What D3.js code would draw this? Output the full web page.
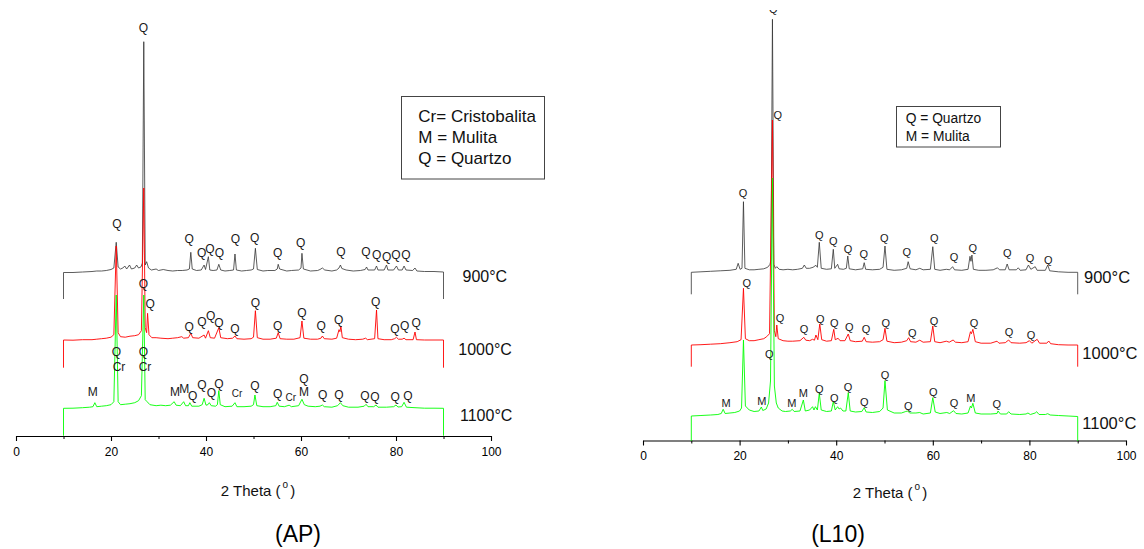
<!DOCTYPE html>
<html>
<head>
<meta charset="utf-8">
<script src="https://cdn.jsdelivr.net/npm/d3@7/dist/d3.min.js"></script>
<style>
  html, body { margin: 0; padding: 0; background: #fff; }
  svg { display: block; }
</style>
</head>
<body>
<script>
// ---------------- DATA ----------------
const xTicks = [0, 20, 40, 60, 80, 100];
const xMinorTicks = [10, 30, 50, 70, 90];
const temperatures = ["900°C", "1000°C", "1100°C"];
const panelTitles = ["(AP)", "(L10)"];
const apLegend = ["Cr= Cristobalita", "M = Mulita", "Q = Quartzo"];
const l10Legend = ["Q = Quartzo", "M = Mulita"];

// series offsets (intensity units) for stacking 900 / 1000 / 1100
const apOffsets = [136.7, 68, 0];
const l10Offsets = [146.7, 74.3, 0];

// ---- AP : [2theta, intensity]
const ap900 = [[10,0],[10,26.5],[12,26.5],[14,27],[16,27.5],[17,28],[18,28],[19,28.5],[20,29.5],[20.6,31],[21.1,56.7],[21.5,32],[22,30],[22.5,31],[22.9,33],[23.3,30],[23.9,34],[24.3,30],[25,31],[25.4,34],[25.8,31],[26.3,32],[26.6,36],[26.9,257.3],[27.2,34],[27.5,37.3],[27.9,31],[28.5,29],[29.5,30],[30,28.5],[31,29.5],[32,28.5],[33,28],[34,28.5],[35,28.5],[36,29],[36.5,30],[36.8,46.7],[37.1,30],[38,28.5],[39,29],[39.6,34],[39.9,29.5],[40.5,42.3],[40.8,29],[41.5,28.5],[42.3,29],[42.7,34.7],[43.1,29],[44,28],[45,28.5],[45.8,29],[46.1,45],[46.4,29],[47.5,28],[48.5,28.5],[49.5,29],[50,30],[50.4,50.7],[50.8,29.5],[52,28],[53,28.5],[54.5,28.5],[55,30],[55.2,34.7],[55.5,30],[57,28],[58,28.5],[59.5,29],[60,31],[60.2,45.7],[60.5,30],[62,28],[63.5,28.5],[64,29.5],[64.5,31],[65,29],[66.5,28],[67.5,29],[68,31],[68.3,34],[68.6,30.5],[69.5,29],[71,28],[72.5,28.5],[73.5,29.5],[73.8,32],[74.1,29],[75.5,29],[75.9,33],[76.2,29],[77.5,29],[78,34],[78.3,29],[79.5,29],[80.1,33],[80.5,29],[81.3,29],[81.7,33],[82.1,29],[83.5,28.5],[84,31],[84.4,28],[86,27.5],[88,27.5],[90,27],[90,0]];
const ap1000 = [[10,0],[10,27.7],[12,27.5],[14,28],[16,28],[17,28.5],[18,29],[19,29.5],[20,30.5],[20.6,33],[21.1,121.7],[21.5,35],[22,31],[23,30.5],[24,31.5],[25,32],[25.8,33],[26.4,37],[26.9,179.7],[27.2,40],[27.5,35],[27.7,54.4],[28,33],[28.6,30],[29.5,30],[30.5,29.5],[32,29],[33,29.5],[34,30],[34.9,31],[35.3,29.5],[36.3,30],[36.8,34.4],[37.2,30],[38.5,29.5],[39.6,32.7],[39.9,29.5],[40.5,37],[40.9,30],[41.8,29.5],[42.7,40],[43.1,30],[44.5,29],[45.6,29.5],[46.1,31.7],[46.5,29],[48,28.5],[49.5,29],[50,30.5],[50.4,57],[50.8,30],[52,28.5],[53.5,28.5],[54.8,29.5],[55.2,35],[55.6,29],[57,28.5],[58.5,28.5],[59.8,30],[60.2,46.7],[60.6,29.5],[62,28.5],[63.5,28.5],[64.2,29.5],[64.5,31.7],[64.9,29],[66.5,28.5],[67.5,29.5],[68,38],[68.2,36],[68.4,41.7],[68.7,30],[70,28.5],[71.5,28],[73,28.5],[73.6,29.5],[74,28],[75.5,29],[75.9,57.7],[76.2,29],[77.5,28],[79,28],[79.7,29],[80.1,30.4],[80.5,28.5],[81.3,28.5],[81.7,29.5],[82.1,28],[83.6,28],[84,35.7],[84.3,28],[86,27.7],[88,27.7],[90,27.7],[90,0]];
const ap1100 = [[10,0],[10,27.4],[12,27.5],[14,28],[15.5,28.5],[16.2,29],[16.6,33],[17,29],[18,29.5],[19,30],[20,31],[20.6,34],[21.1,140.7],[21.5,34],[22,31],[23,31.5],[24,32],[25,33],[25.8,35],[26.4,40],[26.9,140.7],[27.2,36],[27.6,34],[28.2,31],[29.5,30],[30.5,30.5],[31.5,30],[32.5,30.5],[33.3,34],[33.7,30.5],[34.6,30],[35.3,34],[35.7,30],[36.3,30],[36.6,33],[37,29.5],[38.5,29.5],[39.2,31],[39.6,37.4],[40,30.5],[40.4,31],[40.7,33],[41.1,30],[42,29.5],[42.4,31],[42.7,45],[43,31],[44,29],[45.5,29.5],[46.1,33],[46.5,29],[48,29],[49.5,29.5],[50,31],[50.3,40.7],[50.7,30],[52,29],[53.5,29],[54.7,30],[55,33.4],[55.4,29.5],[56.5,29],[57.5,30.5],[58,29],[59.5,30],[60.2,36.4],[60.7,31],[61.5,29.5],[63,29],[64,29.5],[64.5,30.7],[64.9,29],[66.5,28.5],[67.7,30],[68.3,33],[68.8,30],[70,28.5],[72,28.5],[73.3,29.5],[73.7,31.4],[74.1,29],[75.3,29],[75.8,30.7],[76.2,28.5],[78,28.5],[79.5,29],[80,30.7],[80.4,28.7],[81.2,29],[81.7,33.4],[82.2,28.5],[84,28],[86,27.5],[88,27.5],[90,27.4],[90,0]];

// ---- L10 : [2theta, intensity]
const l10900 = [[10,0],[10,22],[12,22.5],[14,23],[16,23.5],[18,24],[19.3,25],[19.7,31],[20.1,25],[20.5,26],[20.8,92.6],[21.1,26],[22,24.5],[23,24.5],[24,25],[25,25.5],[25.8,27],[26.3,30],[26.5,35],[26.8,275],[27.1,30],[27.4,26],[27.7,27.6],[28.2,25],[29,24.5],[30,25],[31,24.5],[32,25],[33,26],[33.4,29.3],[33.8,26],[34.5,26],[35.2,27],[35.8,29],[36.1,27],[36.5,52],[36.9,26],[38,25],[39,25.5],[39.4,45],[39.7,26],[40.3,30],[40.6,25.5],[41.5,25],[42.1,26],[42.4,38.3],[42.7,25.5],[44,24.5],[45.5,25.5],[45.8,31.6],[46.1,25],[47.5,24.5],[49,25],[49.7,27],[50.1,48.3],[50.5,25],[52,24],[53.5,24.5],[54.6,26],[54.9,32.6],[55.3,25.5],[56.5,24.5],[57.3,26],[58,24.5],[59.5,25],[60,47.6],[60.4,25],[61.5,24],[62.8,25],[63.5,24.5],[64.1,27.6],[64.5,24.5],[66,24],[67.3,25],[67.7,38],[67.9,33],[68.1,39.3],[68.4,25],[69.5,24],[71,24],[72.5,24.5],[73.4,26.5],[73.8,24.5],[75,24.5],[75.4,30.3],[75.8,24.5],[77.3,24.5],[77.7,26.5],[78.1,24],[79.3,24.5],[79.8,29.3],[80.3,25],[81.2,27.6],[81.6,24],[83.3,24],[83.8,29.3],[84.2,23.5],[86,22.5],[88,22],[90,22],[90,0]];
const l101000 = [[10,0],[10,21.7],[12,22],[14,22.5],[16,23],[18,24],[19.5,25],[20.3,27],[20.8,78.4],[21.2,28],[22,26],[23,26],[24,27],[25,28],[25.6,30],[26.2,33],[26.8,246.7],[27.2,36],[27.5,30],[27.7,41.7],[28,28],[29,26],[30,25.5],[31,25.5],[32.5,26],[33.3,29.4],[33.7,26.5],[34.5,26],[35.1,27.4],[35.5,26.5],[35.8,31.7],[36.2,27],[36.6,42.7],[37,27],[38,25.5],[39,26],[39.5,37.4],[39.8,27],[40.4,28.4],[40.8,26],[41.8,26],[42.5,32.7],[42.9,26],[44,25],[45.4,25.5],[45.8,29.4],[46.2,25],[47.5,24.5],[49,25],[49.7,27],[50.1,38.4],[50.5,25.5],[52,24],[53.5,24.5],[54.6,26],[55,29],[55.4,25],[56.5,24.5],[57.3,26.5],[58,24.5],[59.5,25],[60,40.7],[60.4,25],[61.5,24],[62.8,25.5],[63.4,24.5],[64.2,26.7],[64.7,24.5],[66,24],[67.3,25],[67.8,35],[68,33],[68.3,37.4],[68.8,25],[70,23.5],[72,23.5],[73.3,25.5],[73.7,23.5],[75,24],[75.7,26.7],[76.2,24],[78,23.5],[79.3,24],[80,26],[80.5,23.5],[81.6,27.4],[82.1,23.5],[83.6,23.5],[84,25.7],[84.4,23],[86,22],[88,21.7],[90,21.7],[90,0]];
const l101100 = [[10,0],[10,25],[12,25.5],[14,26],[15.5,26.5],[16.2,27.5],[16.6,31.7],[17,27.5],[18,28],[19,28.5],[20,30],[20.4,33],[20.8,101],[21.2,35],[22,31],[23,29.5],[24,30],[24.5,34],[24.8,30.5],[25.5,32],[26,38],[26.4,60],[26.8,263],[27.2,55],[27.6,38],[28,33],[28.8,30],[29.5,29.5],[30.5,30],[30.9,31.7],[31.3,29.5],[32.5,30],[33.2,41],[33.6,30],[34.5,31],[35.1,34.3],[35.4,31],[35.7,34.3],[36.1,31],[36.5,47.7],[36.9,31],[38,29.5],[39,30],[39.4,39.3],[39.8,31],[40.3,34.3],[40.6,32],[40.9,33],[41.4,30],[42,30],[42.5,48.3],[42.9,30],[44,29],[45.3,29.5],[45.8,33.3],[46.2,29],[47.5,28.5],[49,29.5],[49.7,33],[50.1,60.3],[50.6,31],[52,28],[53.5,28],[54.4,29.5],[54.8,30],[55.2,28],[56.5,28],[57.3,28.5],[58,27],[59.5,28],[60,43.3],[60.5,29],[61.5,27.5],[62.9,28.5],[63.5,27.5],[64.3,30.3],[64.8,27.5],[66,27],[67.3,28],[67.8,35],[68,33],[68.3,37.7],[68.8,28],[70,27],[72,27],[73.3,27.5],[73.5,30],[74,27],[75.3,27],[75.7,29.3],[76.2,27],[78,26.5],[79.3,27],[79.7,28],[80.2,26.5],[81.2,28],[81.5,29.3],[82,26.5],[83.3,26.5],[83.8,27.3],[84.3,26],[86,25.5],[88,25],[90,24.5],[90,0]];

// ---- phase labels : [2theta, intensity level (series units), text, size class]
const ap900Labels = [[21.26,75,"Q"],[26.8,270.7,"Q"],[36.48,60,"Q"],[39.1,45.7,"Q"],[40.84,49.7,"Q"],[42.8,45.7,"Q"],[46.17,59.7,"Q"],[50.25,61,"Q"],[55.1,45.7,"Q"],[59.94,55.7,"Q"],[68.42,46.7,"Q"],[73.68,46.7,"Q"],[75.94,44,"Q"],[78.04,42.3,"Q"],[80,44,"Q"],[82.1,44,"Q"]];
const ap1000Labels = [[26.8,83.7,"Q"],[28.27,63.4,"Q"],[36.48,41,"Q"],[39.16,45.4,"Q"],[40.99,51.7,"Q"],[42.74,45,"Q"],[46.1,38.4,"Q"],[50.38,65,"Q"],[55.1,42,"Q"],[60.2,54.4,"Q"],[64.27,41.7,"Q"],[67.94,47.7,"Q"],[75.73,66,"Q"],[79.79,38.7,"Q"],[81.83,42,"Q"],[84.27,45,"Q"]];
const ap1100Labels = [[16.15,43.4,"M"],[21.12,83.4,"Q"],[21.68,69,"Cr"],[26.8,83.4,"Q"],[27.16,69,"Cr"],[33.47,44,"M"],[35.43,46.4,"M"],[37.2,40,"Q"],[39.16,50.7,"Q"],[41.12,42.4,"Q"],[42.74,51.7,"Q"],[46.53,42.4,"Cr","s"],[50.32,49.7,"Q"],[55.1,41.7,"Q"],[57.83,38.4,"Cr","s"],[60.63,56.4,"Q"],[60.63,43.4,"M"],[64.57,40.7,"Q"],[68,41,"Q"],[73.47,39.4,"Q"],[75.58,38.4,"Q"],[79.85,39,"Q"],[82.53,40,"Q"]];
const l10900Labels = [[20.7,101.6,"Q"],[26.98,285.3,"Q"],[36.5,59.3,"Q"],[39.4,53.6,"Q"],[42.44,45,"Q"],[45.69,40.3,"Q"],[49.96,56.3,"Q"],[54.6,42.6,"Q"],[60.31,56.3,"Q"],[64.39,37,"Q"],[68.26,46,"Q"],[75.42,41,"Q"],[80.12,36,"Q"],[83.91,34.3,"Q"]];
const l101000Labels = [[21.47,84,"Q"],[27.89,251.7,"Q"],[28.36,48.4,"Q"],[33.33,37.7,"Q"],[36.7,47.4,"Q"],[39.6,44,"Q"],[42.71,39.4,"Q"],[46.17,37.4,"Q"],[50.25,44,"Q"],[55.76,34,"Q"],[60.25,45.7,"Q"],[68.53,44,"Q"],[75.78,34.4,"Q"],[80.33,31.7,"Q"]];
const l101100Labels = [[17.18,37.7,"M"],[24.58,40.3,"M"],[26.15,87,"Q"],[30.79,38.3,"M"],[33.19,47.7,"M"],[36.5,52,"Q"],[39.6,43.3,"Q"],[42.44,54.3,"Q"],[45.82,38.7,"Q"],[50.1,65.7,"Q"],[54.93,35.3,"Q"],[60.1,48.7,"Q"],[64.39,37.7,"Q"],[67.85,43.3,"M"],[73.23,37,"Q"]];

// ---------------- RENDER ----------------
const W = 1144, H = 549;
const FONT = "'Liberation Sans', Arial, Helvetica, sans-serif";
const colors = ["#333333", "#ff0000", "#00ff00"];

const svg = d3.select("body").append("svg")
  .attr("width", W).attr("height", H)
  .attr("font-family", FONT);

svg.append("rect").attr("width", W).attr("height", H).attr("fill", "#fff");

const defs = svg.append("defs");

const panels = [
  {
    id: "ap",
    xRange: [16, 491], zeroY: 435.7, yMax: 420, axisY: 436,
    series: [ap900, ap1000, ap1100], offsets: apOffsets,
    labels: [ap900Labels, ap1000Labels, ap1100Labels],
    labelSize: 12, smallSize: 10,
    tempX: [462.5, 458.3, 460], tempY: [276.7, 349.3, 415.7], tempSize: 16,
    title: panelTitles[0], titleX: 298, titleY: 534, titleSize: 23,
    axisTitleX: 258, axisTitleY: 490,
    legend: apLegend, legendBox: [401.5, 96.5, 143, 82.5], legendX: 418.3,
    legendY0: 116.7, legendDy: 20.8, legendSize: 17,
    clipTop: 0
  },
  {
    id: "l10",
    xRange: [643, 1126], zeroY: 441, yMax: 441, axisY: 440.5,
    series: [l10900, l101000, l101100], offsets: l10Offsets,
    labels: [l10900Labels, l101000Labels, l101100Labels],
    labelSize: 11, smallSize: 10,
    tempX: [1084, 1082.3, 1082.3], tempY: [276.7, 352.7, 423.3], tempSize: 16.5,
    title: panelTitles[1], titleX: 838, titleY: 534, titleSize: 23,
    axisTitleX: 890, axisTitleY: 492,
    legend: l10Legend, legendBox: [896.5, 106.5, 104, 40.5], legendX: 905.7,
    legendY0: 118.3, legendDy: 17.7, legendSize: 13.8,
    clipTop: 10
  }
];

panels.forEach(p => {
  const x = d3.scaleLinear().domain([0, 100]).range(p.xRange);
  const y = d3.scaleLinear().domain([0, p.yMax]).range([p.zeroY, p.zeroY - p.yMax]);
  const g = svg.append("g").attr("class", "panel-" + p.id);

  // major axis
  const ax = g.append("g")
    .attr("transform", `translate(0,${p.axisY})`)
    .call(d3.axisBottom(x).tickValues(xTicks).tickSize(5).tickSizeOuter(0)
      .tickPadding(6).tickFormat(d3.format("d")));
  ax.select(".domain").attr("stroke", "#000").attr("stroke-width", 1.1);
  ax.selectAll(".tick line").attr("stroke", "#000").attr("stroke-width", 1.1);
  ax.selectAll(".tick text").attr("font-family", FONT).attr("font-size", 12).attr("fill", "#000");

  // minor ticks
  const axm = g.append("g")
    .attr("transform", `translate(0,${p.axisY})`)
    .call(d3.axisBottom(x).tickValues(xMinorTicks).tickSize(3).tickSizeOuter(0).tickFormat(""));
  axm.select(".domain").remove();
  axm.selectAll(".tick line").attr("stroke", "#000").attr("stroke-width", 1);

  // series
  const line = d3.line().x(d => x(d[0]));
  p.series.forEach((s, i) => {
    const off = p.offsets[i];
    g.append("path")
      .datum(s)
      .attr("fill", "none")
      .attr("stroke", colors[i])
      .attr("stroke-width", i === 0 ? 0.8 : 0.9)
      .attr("stroke-linejoin", "round")
      .attr("d", line.y(d => y(d[1] + off)));
  });

  // phase labels
  const clipId = "clip-" + p.id;
  defs.append("clipPath").attr("id", clipId)
    .append("rect").attr("x", 0).attr("y", p.clipTop).attr("width", W).attr("height", H);
  const lg = g.append("g").attr("clip-path", `url(#${clipId})`);
  p.labels.forEach((arr, i) => {
    const off = p.offsets[i];
    lg.selectAll(null).data(arr).enter().append("text")
      .attr("x", d => x(d[0]))
      .attr("y", d => y(d[1] + off))
      .attr("text-anchor", "middle")
      .attr("dominant-baseline", "central")
      .attr("font-size", d => d[3] === "s" ? p.smallSize : p.labelSize)
      .attr("fill", "#1a1a1a")
      .text(d => d[2]);
  });

  // temperature labels
  temperatures.forEach((t, i) => {
    g.append("text")
      .attr("x", p.tempX[i]).attr("y", p.tempY[i])
      .attr("dominant-baseline", "central")
      .attr("font-size", p.tempSize)
      .attr("fill", "#111")
      .text(t);
  });

  // axis title
  const at = g.append("text")
    .attr("x", p.axisTitleX).attr("y", p.axisTitleY)
    .attr("text-anchor", "middle")
    .attr("dominant-baseline", "central")
    .attr("font-size", 15).attr("fill", "#111");
  at.append("tspan").text("2 Theta (");
  at.append("tspan").attr("font-size", 10).attr("dx", 2).attr("dy", -6).text("o");
  at.append("tspan").attr("dx", 2).attr("dy", 6).text(")");

  // panel title
  g.append("text")
    .attr("x", p.titleX).attr("y", p.titleY)
    .attr("text-anchor", "middle")
    .attr("dominant-baseline", "central")
    .attr("font-size", p.titleSize).attr("fill", "#000")
    .text(p.title);

  // legend
  const [bx, by, bw, bh] = p.legendBox;
  g.append("rect").attr("x", bx).attr("y", by).attr("width", bw).attr("height", bh)
    .attr("fill", "#fff").attr("stroke", "#444").attr("stroke-width", 1);
  p.legend.forEach((t, i) => {
    g.append("text")
      .attr("x", p.legendX).attr("y", p.legendY0 + i * p.legendDy)
      .attr("dominant-baseline", "central")
      .attr("font-size", p.legendSize).attr("fill", "#111")
      .text(t);
  });
});
</script>
</body>
</html>
